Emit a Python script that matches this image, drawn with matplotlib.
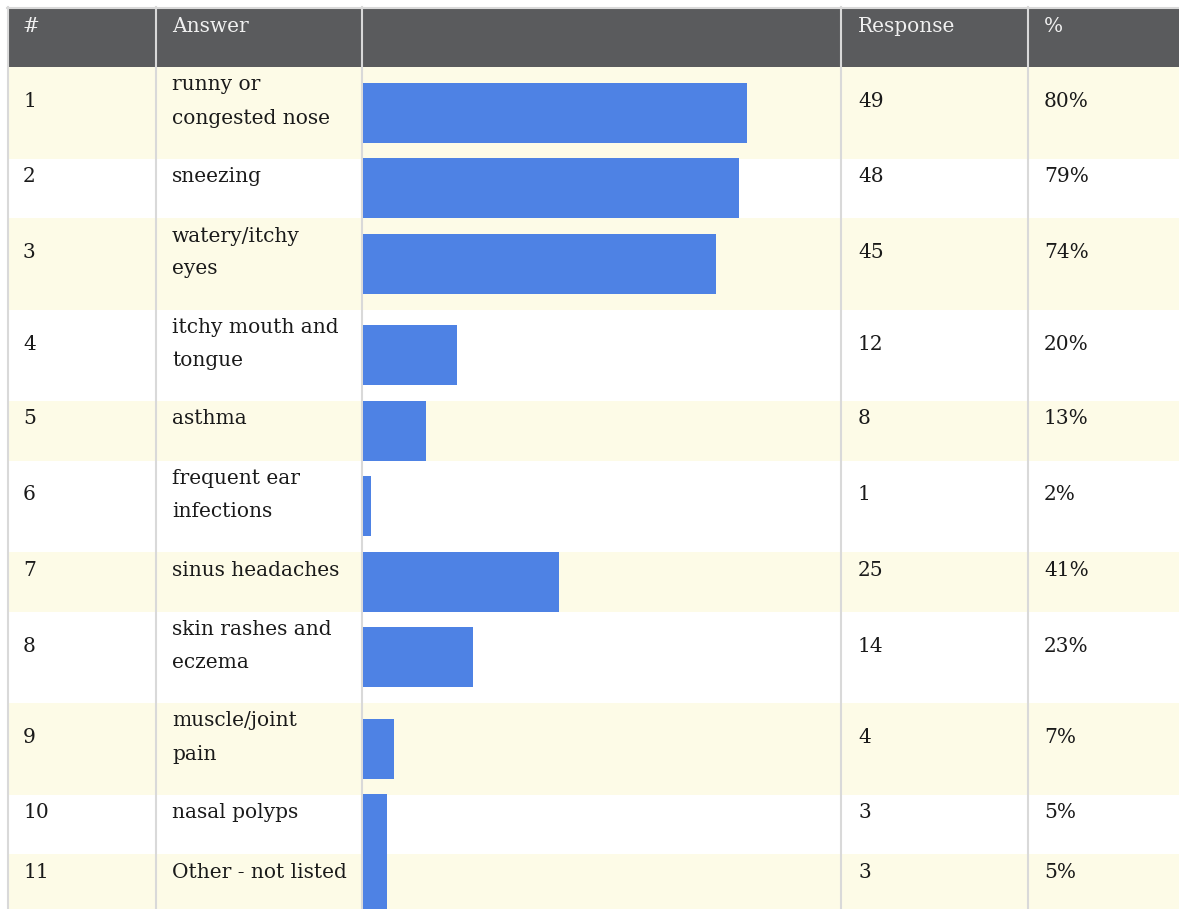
import matplotlib.pyplot as plt
from matplotlib.patches import Rectangle

# table data
numbers = [str(i) for i in range(1, 12)]
answers = ["runny or\ncongested nose", "sneezing", "watery/itchy\neyes",
           "itchy mouth and\ntongue", "asthma", "frequent ear\ninfections",
           "sinus headaches", "skin rashes and\neczema", "muscle/joint\npain",
           "nasal polyps", "Other - not listed"]
responses = [49, 48, 45, 12, 8, 1, 25, 14, 4, 3, 3]
percents = ["80%", "79%", "74%", "20%", "13%", "2%", "41%", "23%", "7%", "5%", "5%"]
headers = ["#", "Answer", "Response", "%"]
total = 61

W, H = 1179, 909
fig = plt.figure(figsize=(W / 100, H / 100), dpi=100)
ax = fig.add_axes([0, 0, 1, 1])
ax.set_xlim(0, W)
ax.set_ylim(H, 0)
ax.axis('off')

font = dict(family='DejaVu Serif', fontsize=14.5)
yellow = '#fdfbe7'
grid = '#d9d9d9'
lines_x = [7.5, 156, 362, 841, 1028]
text_x = [23, 172, 858, 1044]

# header
ax.add_patch(Rectangle((8, 8), W - 8, 59, color='#5a5b5d', lw=0, zorder=1))
for x, h in zip(text_x, headers):
    ax.text(x, 31.5, h, color='#f0f0f0', va='baseline', ha='left', zorder=5, **font)

# rows
top = 67
centers = []
for i, (num, ans, resp, pct) in enumerate(zip(numbers, answers, responses, percents)):
    lines = ans.split('\n')
    n = len(lines)
    h = 27.5 + 32 * n
    if i % 2 == 0:
        ax.add_patch(Rectangle((8, top), W - 8, h, color=yellow, lw=0, zorder=1))
    for j, ln in enumerate(lines):
        ax.text(text_x[1], top + 23.5 + 33 * j, ln, color='#1a1a1a', va='baseline', zorder=5, **font)
    yb = top + 23.5 + 33 * (n - 1) / 2
    ax.text(text_x[0], yb, num, color='#1a1a1a', va='baseline', zorder=5, **font)
    ax.text(text_x[2], yb, str(resp), color='#1a1a1a', va='baseline', zorder=5, **font)
    ax.text(text_x[3], yb, pct, color='#1a1a1a', va='baseline', zorder=5, **font)
    centers.append(top + h / 2)
    top += h

# grid lines
ax.plot([7, W], [7.5, 7.5], color=grid, lw=1.5, zorder=3)
for x in lines_x:
    ax.plot([x, x], [7, H], color=grid, lw=1.5, zorder=3)

# bars in their own axes
bx = fig.add_axes([363 / W, 0, (841 - 363) / W, 1])
bx.set_xlim(0, total)
bx.set_ylim(H, 0)
bx.axis('off')
bx.patch.set_alpha(0)
bx.barh(centers, responses, height=60, color='#4e82e4', zorder=4)

fig.savefig('out.png', dpi=100)
